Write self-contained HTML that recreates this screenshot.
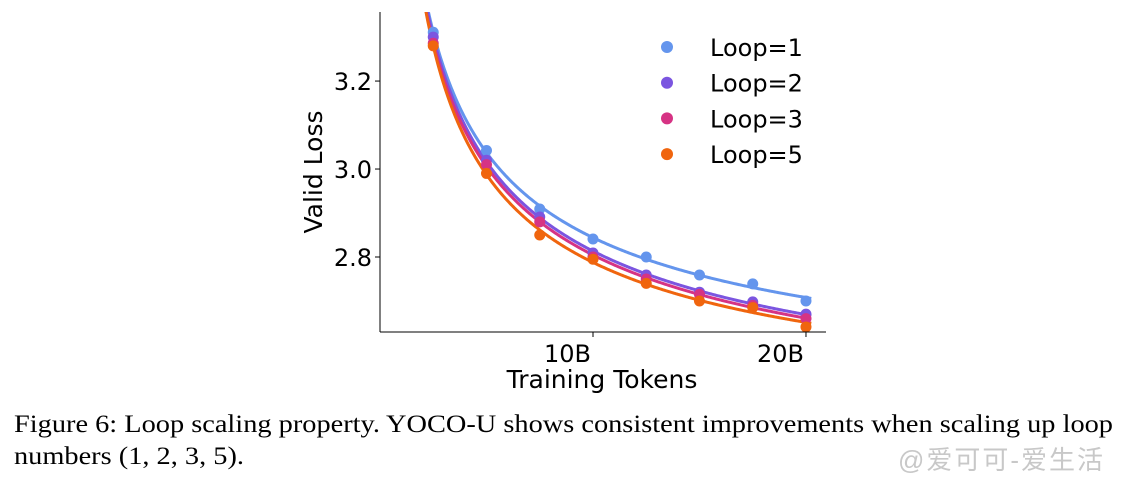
<!DOCTYPE html>
<html><head><meta charset="utf-8"><style>
body{margin:0;width:1129px;height:481px;background:#fff;overflow:hidden;position:relative}
svg{position:absolute;left:0;top:0}
.cap{position:absolute;left:14px;font-family:"Liberation Serif",serif;font-size:25px;color:#000;white-space:nowrap;transform-origin:0 0}
</style></head><body>
<svg width="1129" height="481">
<g id="plot"></g>
</svg>
<div class="cap" id="c1" style="top:411px">Figure 6: Loop scaling property. YOCO-U shows consistent improvements when scaling up loop</div>
<div class="cap" id="c2" style="top:443px">numbers (1, 2, 3, 5).</div>
<div style="position:absolute;left:898px;top:440px;font-family:'Liberation Sans','Noto Sans CJK SC',sans-serif;font-size:26px;letter-spacing:2px;color:#c8c8c8">@爱可可-爱生活</div>
<script>
const tokens=[2.5,5,7.5,10,12.5,15,17.5,20];
const seriesNames=["Loop=1","Loop=2","Loop=3","Loop=5"];
const loop1=[3.311,3.042,2.909,2.841,2.80,2.759,2.739,2.70];
const loop2=[3.30,3.02,2.891,2.809,2.759,2.72,2.698,2.67];
const loop3=[3.286,3.01,2.88,2.80,2.75,2.715,2.69,2.66];
const loop5=[3.28,2.99,2.85,2.795,2.74,2.70,2.685,2.641];
const xTicks=[10,20];const xTickLabels=["10B","20B"];
const yTicks=[2.8,3.0,3.2];const yTickLabels=["2.8","3.0","3.2"];
const colors=["#6495ed","#7b55e0","#d63384","#f0650e"];
const NS="http://www.w3.org/2000/svg";
const g=document.getElementById('plot');
const X0=380,X1=826,Y0=12,Y1=332;
const xmin=0,xmax=20.94,ymin=2.6295,ymax=3.357;
const sx=v=>X0+(v-xmin)/(xmax-xmin)*(X1-X0);
const sy=v=>Y1-(v-ymin)/(ymax-ymin)*(Y1-Y0);
function mk(t,a){const e=document.createElementNS(NS,t);for(const k in a)e.setAttribute(k,a[k]);g.appendChild(e);return e;}
const font='"DejaVu Sans","Liberation Sans",sans-serif';
const defs=document.createElementNS(NS,'defs');defs.innerHTML='<clipPath id="cp"><rect x="'+X0+'" y="'+Y0+'" width="'+(X1-X0)+'" height="'+(Y1-Y0)+'"/></clipPath>';g.appendChild(defs);
function fit(ys){let best=null;for(let a=0.1;a<3;a+=0.005){const f=tokens.map(x=>Math.pow(x,-a));const n=f.length;const mf=f.reduce((s,v)=>s+v,0)/n,my=ys.reduce((s,v)=>s+v,0)/n;let num=0,den=0;for(let i=0;i<n;i++){num+=(f[i]-mf)*(ys[i]-my);den+=(f[i]-mf)**2;}const A=num/den,E=my-A*mf;let err=0;for(let i=0;i<n;i++)err+=(E+A*f[i]-ys[i])**2;if(!best||err<best.err)best={a,A,E,err};}return best;}
const all=[loop1,loop2,loop3,loop5];
all.forEach((ys,si)=>{const p=fit(ys);let d='';for(let x=2.0;x<=20.3;x+=0.05){const y=p.E+p.A*Math.pow(x,-p.a);d+=(d?'L':'M')+sx(x).toFixed(2)+','+sy(y).toFixed(2);}
const l=mk('path',{d:d,fill:'none',stroke:colors[si],'stroke-width':3,'clip-path':'url(#cp)'});

});
all.forEach((ys,si)=>{ys.forEach((v,i)=>{const c=mk('circle',{cx:sx(tokens[i]),cy:sy(v),r:5.5,fill:colors[si]});

});});
const ax=mk('line',{x1:X0,y1:Y0,x2:X0,y2:Y1,stroke:'#000','stroke-width':1});

const bx=mk('line',{x1:X0,y1:Y1,x2:X1,y2:Y1,stroke:'#000','stroke-width':1});

xTicks.forEach((t,i)=>{mk('line',{x1:sx(t),y1:Y1,x2:sx(t),y2:Y1+5,stroke:'#000'});
const tx=mk('text',{x:sx(t)-2,y:Y1+30,'text-anchor':'end','font-family':font,'font-size':24});tx.textContent=xTickLabels[i];
});
yTicks.forEach((t,i)=>{mk('line',{x1:X0-5,y1:sy(t),x2:X0,y2:sy(t),stroke:'#000'});
const tx=mk('text',{x:X0-8,y:sy(t)+9,'text-anchor':'end','font-family':font,'font-size':24});tx.textContent=yTickLabels[i];
});
const xl=mk('text',{x:602,y:388,'text-anchor':'middle','font-family':font,'font-size':25});xl.textContent='Training Tokens';

const yl=mk('text',{x:322,y:172,'text-anchor':'middle','font-family':font,'font-size':25,transform:'rotate(-90 322 172)'});yl.textContent='Valid Loss';

seriesNames.forEach((n,i)=>{const y=47+i*35.7;mk('circle',{cx:667,cy:y,r:6,fill:colors[i]});
const t=mk('text',{x:710,y:y+9,'font-family':font,'font-size':24});t.textContent=n;
});
const c1=document.getElementById('c1'),c2=document.getElementById('c2');
const s=1099/c1.getBoundingClientRect().width;
c1.style.transform='scaleX('+s+')';c2.style.transform='scaleX('+s+')';
</script>
</body></html>
